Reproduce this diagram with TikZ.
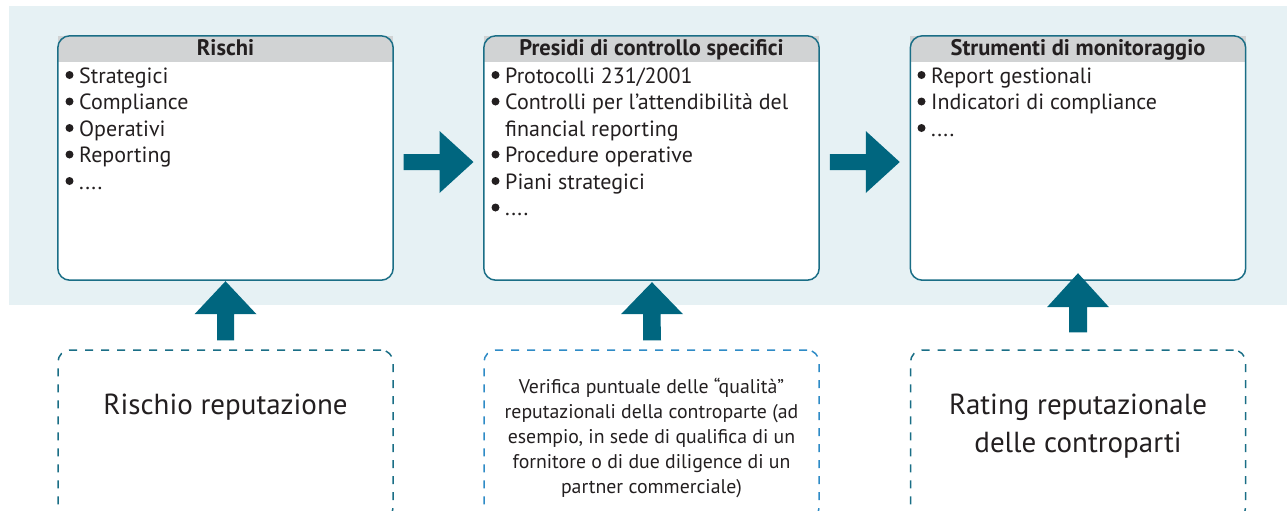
\documentclass[tikz,border=0pt]{standalone}
\usepackage{fontspec}
\setmainfont{PT Sans}
\usetikzlibrary{calc}
\definecolor{bgblue}{HTML}{E6F1F4}
\definecolor{boxline}{HTML}{1A6E86}
\definecolor{arrowc}{HTML}{00667F}
\definecolor{hdrgray}{HTML}{D1D3D4}
\definecolor{txt}{HTML}{231F20}
\definecolor{dashlight}{HTML}{2E8BC6}
\tikzset{
  mainbox/.style={fill=white, draw=none, rounded corners=12pt, minimum width=335pt, minimum height=244pt, inner sep=0pt},
  boxborder/.style={draw=boxline, line width=1.5pt, rounded corners=12pt},
  hdrtext/.style={font=\fontsize{22.5}{24}\selectfont\bfseries, text=txt, inner sep=0pt, anchor=base},
  itemtext/.style={font=\fontsize{22}{24}\selectfont, text=txt, inner sep=0pt, anchor=base west},
  bigtext/.style={font=\fontsize{29}{32}\selectfont, text=txt, inner sep=0pt, anchor=base},
  midtext/.style={font=\fontsize{19.8}{22}\selectfont, text=txt, inner sep=0pt, anchor=base},
  dashbox/.style={draw=boxline, line width=1.5pt, rounded corners=12pt, dash pattern=on 8pt off 8pt, minimum width=335pt, minimum height=170pt, inner sep=0pt},
  blockarrow/.style={fill=arrowc, draw=none},
}
\newcommand\litem[4]{%
  \fill[txt] ({#1-9.5},{#2-8}) circle (4pt);
  \node[itemtext] (#3) at (#1,#2) {#4};}
\begin{document}
\begin{tikzpicture}[x=1pt,y=-1pt]
\useasboundingbox (0,0) rectangle (1287,515);
\fill[bgblue] (9,6) rectangle (1287,305);

% main boxes
\foreach \n/\cx in {r1/225.5, p1/651.5, s1/1078}{
  \node[mainbox] (\n) at (\cx,158) {};
  \fill[hdrgray] (\n.north west) rectangle ($(\n.north east)+(0,26)$);
  \draw[boxborder] (\n.south west) rectangle (\n.north east);
}
\node[hdrtext] (r1h) at ($(r1.north)+(0,20)$) {Rischi};
\node[hdrtext] (p1h) at ($(p1.north)+(0,20)$) {Presidi di controllo specifici};
\node[hdrtext] (s1h) at ($(s1.north)+(0,20)$) {Strumenti di monitoraggio};

\litem{79}{83}{r1a}{Strategici}
\litem{79}{109.5}{r1b}{Compliance}
\litem{79}{136}{r1c}{Operativi}
\litem{79}{162.5}{r1d}{Reporting}
\litem{79}{189}{r1e}{....}

\litem{505}{83}{p1a}{Protocolli 231/2001}
\litem{505}{109.5}{p1b}{Controlli per l'attendibilità del}
\node[itemtext] (p1b2) at (505,136) {financial reporting};
\litem{505}{162.5}{p1c}{Procedure operative}
\litem{505}{189}{p1d}{Piani strategici}
\litem{505}{215.5}{p1e}{....}

\litem{931}{83}{s1a}{Report gestionali}
\litem{931}{109.5}{s1b}{Indicatori di compliance}
\litem{931}{136}{s1c}{....}

% horizontal block arrows
\path ($(r1.east)!0.5!(p1.west)$) coordinate (m1);
\path ($(p1.east)!0.5!(s1.west)$) coordinate (m2);
\foreach \m in {m1,m2}{
  \fill[blockarrow] ($(\m)+(-35,-4)$) -- ($(\m)+(1,-4)$) -- ($(\m)+(1,-27)$) -- ($(\m)+(35,4)$)
    -- ($(\m)+(1,35)$) -- ($(\m)+(1,12)$) -- ($(\m)+(-35,12)$) -- cycle;
}

% dashed boxes (cut by the page bottom)
\begin{scope}
\clip (0,0) rectangle (1287,510);
\node[dashbox] (d1) at (225.5,435) {};
\node[dashbox, draw=dashlight] (d2) at (651.5,435) {};
\node[dashbox] (d3) at (1078,435) {};
\end{scope}

\node[bigtext] (d1t) at (225.5,414) {Rischio reputazione};
\node[midtext] (d2a) at (651.5,393) {Verifica puntuale delle “qualità”};
\node[midtext] (d2b) at (651.5,418) {reputazionali della controparte (ad};
\node[midtext] (d2c) at (651.5,443) {esempio, in sede di qualifica di un};
\node[midtext] (d2d) at (651.5,468) {fornitore o di due diligence di un};
\node[midtext] (d2e) at (651.5,493) {partner commerciale)};
\node[bigtext] (d3a) at (1078,414) {Rating reputazionale};
\node[bigtext] (d3b) at (1078,452) {delle controparti};

% vertical block arrows from dashed boxes up to main boxes
\fill[blockarrow] ($(r1.south)+(0,1)$) -- ($(r1.south)+(31,34)$) -- ($(r1.south)+(8.5,34)$)
  -- ($(d1.north)+(8.5,-9)$) -- ($(d1.north)+(-8.5,-9)$) -- ($(r1.south)+(-8.5,34)$) -- ($(r1.south)+(-31,34)$) -- cycle;
\fill[blockarrow] ($(p1.south)+(0.5,2)$) -- ($(p1.south)+(31.5,34)$) -- ($(p1.south)+(9,34)$)
  -- ($(d2.north)+(9.5,-9)$) -- ($(d2.north)+(-8.5,-9)$) -- ($(p1.south)+(-8.5,34)$) -- ($(p1.south)+(-30.5,34)$) -- cycle;
\fill[blockarrow] ($(s1.south)+(0,-7)$) -- ($(s1.south)+(31,27)$) -- ($(s1.south)+(9,27)$)
  -- ($(d3.north)+(9,-17)$) -- ($(d3.north)+(-9,-17)$) -- ($(s1.south)+(-9,27)$) -- ($(s1.south)+(-31,27)$) -- cycle;
\end{tikzpicture}
\end{document}
